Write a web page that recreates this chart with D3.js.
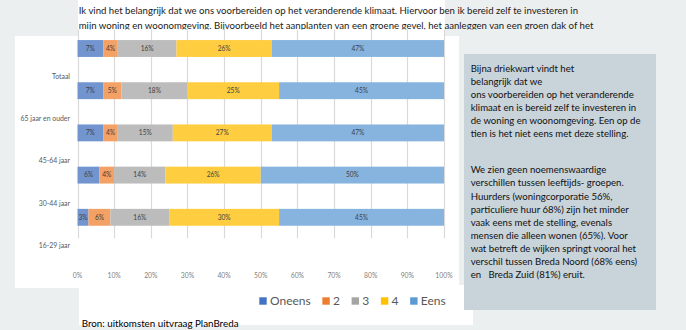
<!DOCTYPE html>
<html>
<head>
<meta charset="utf-8">
<script src="https://cdn.jsdelivr.net/npm/d3@7"></script>
<style>
    body { margin: 0; background: #eceff0; }
    svg { display: block; font-family: Lato, "Open Sans", sans-serif; }
</style>
</head>
<body>
<svg id="chart" width="686" height="330"></svg>
<script>
// Answer categories and share per age group (percent)
const categories = ["Totaal", "65 jaar en ouder", "45-64 jaar", "30-44 jaar", "16-29 jaar"];
const series = ["Oneens", "2", "3", "4", "Eens"];
const oneens = [7, 7, 7, 6, 3];
const score2 = [4, 5, 4, 4, 6];
const score3 = [16, 18, 15, 14, 16];
const score4 = [26, 25, 27, 26, 30];
const eens = [47, 45, 47, 50, 45];
const tickValues = [0, 10, 20, 30, 40, 50, 60, 70, 80, 90, 100];

const introLines = [
    "Ik vind het belangrijk dat we ons voorbereiden op het veranderende klimaat. Hiervoor ben ik bereid zelf te investeren in",
    "mijn woning en woonomgeving. Bijvoorbeeld het aanplanten van een groene gevel, het aanleggen van een groen dak of het"
];
const noteTop = [
    "Bijna driekwart vindt het",
    "belangrijk dat we",
    "ons voorbereiden op het veranderende",
    "klimaat en is bereid zelf te investeren in",
    "de woning en woonomgeving. Een op de",
    "tien is het niet eens met deze stelling."
];
const noteBottom = [
    "We zien geen noemenswaardige",
    "verschillen tussen leeftijds- groepen.",
    "Huurders (woningcorporatie 56%,",
    "particuliere huur 68%) zijn het minder",
    "vaak eens met de stelling, evenals",
    "mensen die alleen wonen (65%). Voor",
    "wat betreft de wijken springt vooral het",
    "verschil tussen Breda Noord (68% eens)",
    "en \u00a0\u00a0Breda Zuid (81%) eruit."
];
const source = "Bron: uitkomsten uitvraag PlanBreda";

const barColors = ["#7295d0", "#f4a165", "#bcbcbc", "#ffcd40", "#87b4df"];
const keyColors = ["#4472c4", "#ed7d31", "#a5a5a5", "#ffc000", "#5b9bd5"];

const values = [oneens, score2, score3, score4, eens];
const rows = categories.map((c, i) => {
    const r = { cat: c };
    series.forEach((s, j) => { r[s] = values[j][i]; });
    return r;
});
const stacked = d3.stack().keys(series)(rows);

const svg = d3.select("#chart");

// white backgrounds: chart sheet, legend strip, intro text box
svg.append("rect").attr("x", 15).attr("y", 36).attr("width", 444).attr("height", 252).attr("fill", "#fff");
svg.append("rect").attr("x", 79).attr("y", 285).attr("width", 394).attr("height", 40).attr("fill", "#fff");
svg.append("rect").attr("x", 78).attr("y", 0).attr("width", 367).attr("height", 36).attr("fill", "#fff");

const x = d3.scaleLinear().domain([0, 100]).range([77.5, 444]);
const y = d3.scaleBand().domain(categories).range([27.4, 238.4]).paddingInner(0.6).paddingOuter(0.3);

// vertical gridlines
svg.append("g").selectAll("line").data(tickValues).join("line")
    .attr("x1", d => Math.round(x(d)) + 0.5)
    .attr("x2", d => Math.round(x(d)) + 0.5)
    .attr("y1", 29.5)
    .attr("y2", 238.4)
    .attr("stroke", "#d9d9d9")
    .attr("stroke-width", 1.2);

// stacked bars
const layers = svg.append("g").selectAll("g").data(stacked).join("g")
    .attr("fill", (d, i) => barColors[i]);
layers.selectAll("rect").data(d => d).join("rect")
    .attr("x", d => x(d[0]))
    .attr("width", d => x(d[1]) - x(d[0]))
    .attr("y", d => y(d.data.cat))
    .attr("height", y.bandwidth());

// value labels
layers.selectAll("text").data(d => d.map(v => ({ v: v, key: d.key }))).join("text")
    .attr("x", d => (x(d.v[0]) + x(d.v[1])) / 2)
    .attr("y", d => y(d.v.data.cat) + y.bandwidth() / 2)
    .attr("dy", "0.35em")
    .attr("text-anchor", "middle")
    .attr("font-size", 6.6)
    .attr("fill", "#404040")
    .text(d => d.v.data[d.key] + "%");

// category labels
svg.append("g").selectAll("text").data(categories).join("text")
    .attr("x", 70)
    .attr("y", d => y(d) + y.bandwidth() / 2 + 28)
    .attr("dy", "0.35em")
    .attr("text-anchor", "end")
    .attr("font-size", 6.9)
    .attr("fill", "#595959")
    .text(d => d);

// x axis labels
svg.append("g").selectAll("text").data(tickValues).join("text")
    .attr("x", d => x(d))
    .attr("y", 275.7)
    .attr("dy", "0.35em")
    .attr("text-anchor", "middle")
    .attr("font-size", 6.8)
    .attr("fill", "#7f7f7f")
    .text(d => d + "%");

// legend
let lx = 259.3;
series.forEach((s, i) => {
    svg.append("rect").attr("x", lx).attr("y", 297.3).attr("width", 7.4).attr("height", 7.4).attr("fill", keyColors[i]);
    const t = svg.append("text").attr("x", lx + 10.7).attr("y", 305)
        .attr("font-size", 12).attr("fill", "#595959").text(s);
    lx += 10.7 + t.node().getComputedTextLength() + 11.6;
});

// intro text above the chart, cut off by its text box
svg.append("clipPath").attr("id", "introClip")
    .append("rect").attr("x", 0).attr("y", 0).attr("width", 686).attr("height", 29.5);
svg.append("g").attr("clip-path", "url(#introClip)").selectAll("text").data(introLines).join("text")
    .attr("x", 78.7)
    .attr("y", (d, i) => 14 + i * 14.5)
    .attr("font-size", 9.6)
    .attr("fill", "#1a1a1a")
    .text(d => d);

// side note
svg.append("rect").attr("x", 464).attr("y", 54).attr("width", 192).attr("height", 256).attr("fill", "#c8d3da");
const note = svg.append("g").attr("font-size", 9.6).attr("fill", "#111");
note.selectAll("text.a").data(noteTop).join("text").attr("class", "a")
    .attr("x", 470.7).attr("y", (d, i) => 71.7 + i * 13.1).text(d => d);
note.selectAll("text.b").data(noteBottom).join("text").attr("class", "b")
    .attr("x", 470.7).attr("y", (d, i) => 173.3 + i * 13.125).text(d => d);

// source line
svg.append("text").attr("x", 81.7).attr("y", 326.5)
    .attr("font-size", 9.8).attr("fill", "#000").text(source);
</script>
</body>
</html>
